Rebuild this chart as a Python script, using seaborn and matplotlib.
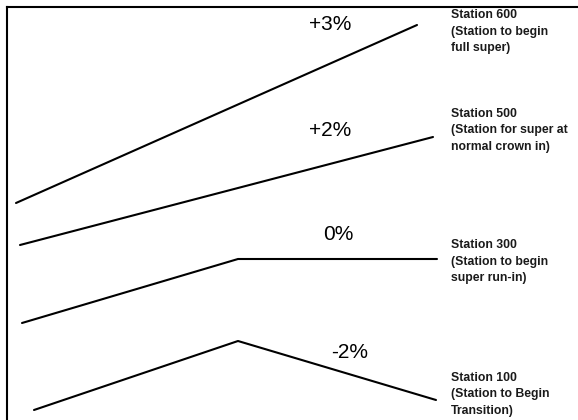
import pandas as pd
import matplotlib
matplotlib.use("Agg")
import matplotlib.pyplot as plt
import seaborn as sns

# cross-slope profiles, in picture units (x to the right, y downward)
profile_names = ["+3%", "+2%", "0%", "-2%"]
profile_x = [[16, 417], [20, 433], [22, 238, 437], [34, 238, 436]]
profile_y = [[203, 25], [245, 137], [323, 259, 259], [410, 341, 400]]

# slope labels and station notes
slope_labels = ["+3%", "+2%", "0%", "-2%"]
station_labels = [
    "Station 600\n(Station to begin\nfull super)",
    "Station 500\n(Station for super at\nnormal crown in)",
    "Station 300\n(Station to begin\nsuper run-in)",
    "Station 100\n(Station to Begin\nTransition)",
]

rows = []
for name, xs, ys in zip(profile_names, profile_x, profile_y):
    for x, y in zip(xs, ys):
        rows.append({"profile": name, "x": x, "y": y})
df = pd.DataFrame(rows)

sns.set_style("white")
plt.rcParams["font.family"] = ["Liberation Sans", "DejaVu Sans"]

fig = plt.figure(figsize=(5.78, 4.2), dpi=100)
ax = fig.add_axes([7 / 578, 0, 1 - 7 / 578, 1 - 6.5 / 420])

sns.lineplot(data=df, x="x", y="y", units="profile", estimator=None,
             sort=False, color="black", linewidth=1.5, ax=ax)

slope_pos = [(330, 25), (330, 130), (338, 234), (350, 352)]
for lab, (x, y) in zip(slope_labels, slope_pos):
    ax.text(x, y, lab, fontsize=15, ha="center", va="center", color="black")

station_pos = [(451, 9), (451, 108), (451, 239), (451, 372)]
for lab, (x, y) in zip(station_labels, station_pos):
    ax.text(x, y, lab, fontsize=8.8, fontweight="bold", ha="left", va="top",
            color="#1a1a1a", linespacing=1.5)

ax.set_xlim(7, 578)
ax.set_ylim(420, 6.5)
ax.set_xticks([])
ax.set_yticks([])
ax.set_xlabel("")
ax.set_ylabel("")
for side in ["right", "bottom"]:
    ax.spines[side].set_visible(False)
for side in ["top", "left"]:
    ax.spines[side].set_color("black")
    ax.spines[side].set_linewidth(1.5)

fig.savefig("out.png", dpi=100)
